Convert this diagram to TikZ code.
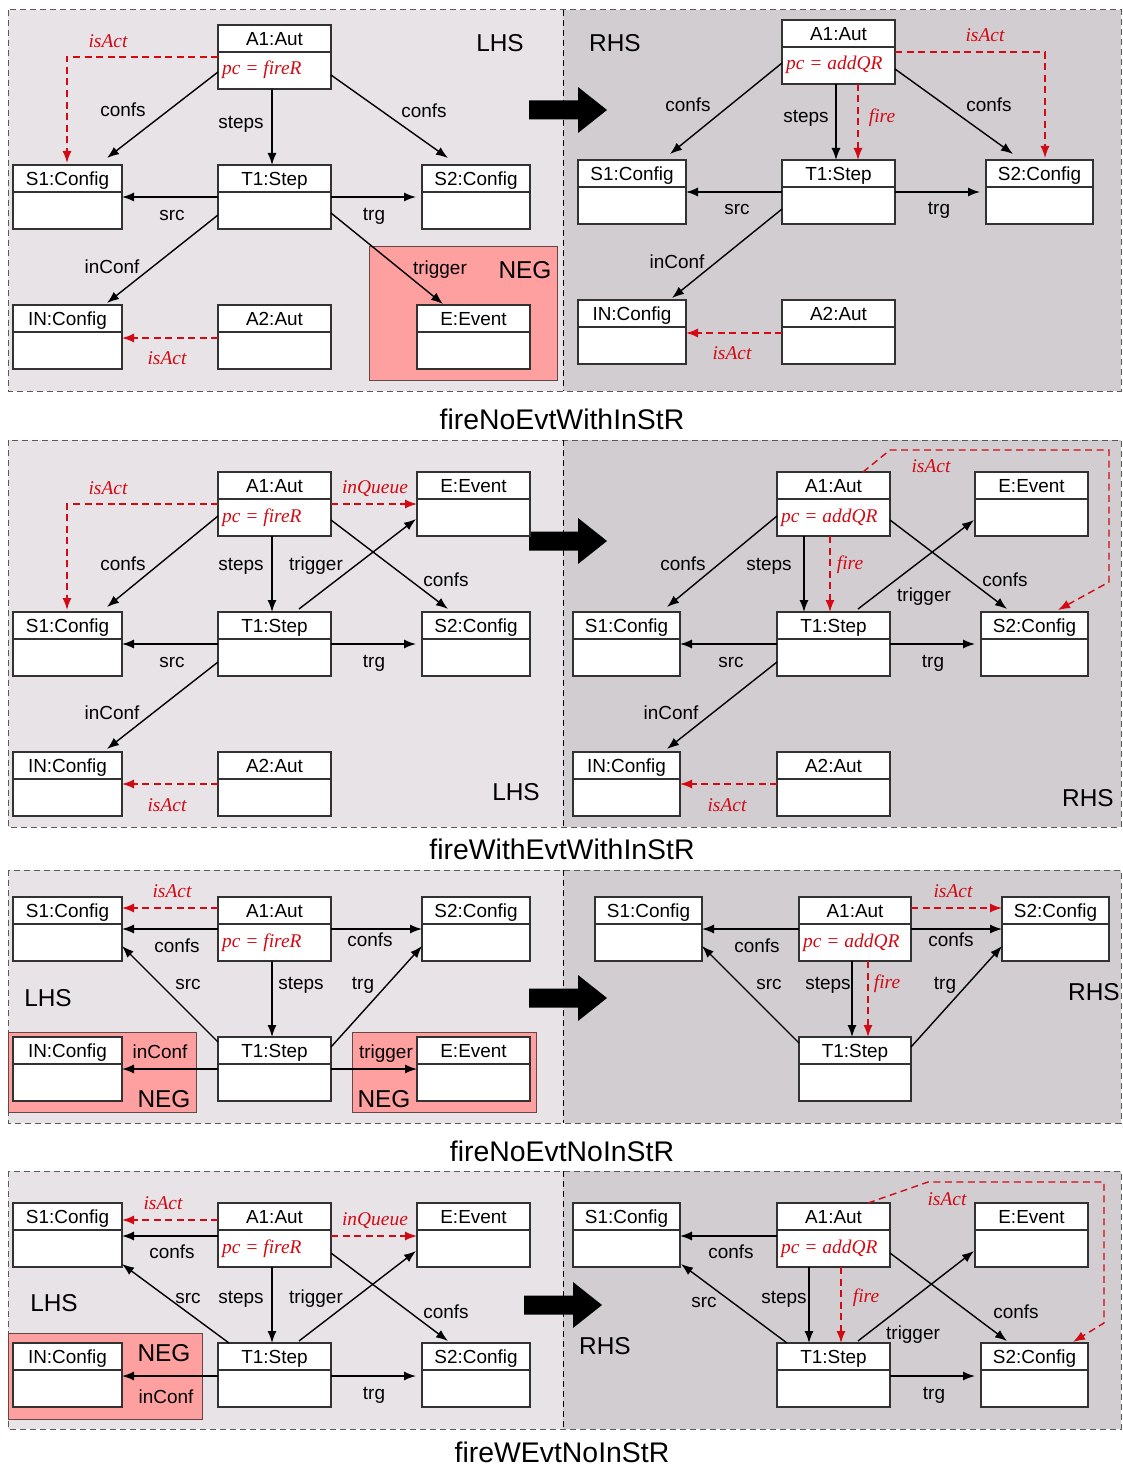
\documentclass[tikz,border=0pt]{standalone}
\usepackage{fontspec}
\setmainfont{Liberation Serif}
\setsansfont{Liberation Sans}
\usetikzlibrary{arrows.meta}
\definecolor{redc}{RGB}{210,10,20}
\definecolor{lhsbg}{RGB}{231,227,231}
\definecolor{rhsbg}{RGB}{209,205,209}
\definecolor{negbg}{RGB}{255,160,160}
\definecolor{negline}{RGB}{100,70,70}
\definecolor{boxgray}{RGB}{50,50,50}
\definecolor{framegray}{RGB}{90,90,90}

\tikzset{
  umlo/.style={draw=boxgray, line width=1.2bp, fill=white, minimum height=64bp, inner sep=0pt, outer sep=0pt},
  hdiv/.style={draw=boxgray, line width=1.2bp},
  utitle/.style={font=\sffamily\fontsize{19}{22}\selectfont, inner sep=0pt, text height=14bp, text depth=0pt},
  lab/.style={font=\sffamily\fontsize{19}{22}\selectfont, inner sep=0pt, text height=14bp, text depth=0pt},
  rlab/.style={font=\rmfamily\itshape\fontsize{19.5}{22}\selectfont, text=redc, inner sep=0pt, text height=13bp, text depth=0pt},
  bigtext/.style={font=\sffamily\fontsize{24.5}{28}\selectfont, inner sep=0pt, text height=18bp, text depth=0pt},
  captext/.style={font=\sffamily\fontsize{28.5}{32}\selectfont, inner sep=0pt, text height=20.5bp, text depth=0pt},
  cn/.style={draw=black, line width=1.4bp, -{Latex[length=12bp,width=9bp]}},
  rd/.style={draw=redc, line width=1.4bp, dash pattern=on 7bp off 4.5bp, -{Latex[length=12bp,width=9bp]}},
  panelframe/.style={draw=framegray, line width=1bp, dash pattern=on 6bp off 4bp},
  divl/.style={draw=black, line width=1bp, dash pattern=on 6bp off 4bp},
  negarea/.style={fill=negbg, draw=negline, line width=1bp},
}

\newcounter{lbn}
% object box: name, x, y, width, title, attribute
\newcommand\umlobj[6]{%
  \node[umlo, minimum width=#4bp, anchor=north west] (#1) at (#2,#3) {};
  \draw[hdiv] ([yshift=-27bp]#1.north west) -- ([yshift=-27bp]#1.north east);
  \node[utitle] (#1t) at ([yshift=-13.5bp]#1.north) {#5};
  \node[rlab, anchor=west] (#1b) at ([xshift=4bp,yshift=-43.5bp]#1.north west) {#6};
}
% free label with an automatic name
\newcommand\labat[4][lab]{\stepcounter{lbn}\node[#1] (lb\arabic{lbn}) at (#2,#3) {#4};}
% thick arrow between the two sides of a rule
\newcommand\ruleArrow[2]{\fill[black] (#1,#2) ++(0,-9.5) -- ++(49,0) -- ++(0,-13.5) -- ++(29,23) -- ++(-29,23) -- ++(0,-13.5) -- ++(-49,0) -- cycle;}

\begin{document}
\begin{tikzpicture}[x=1bp, y=-1bp]
\useasboundingbox (0,0) rectangle (1122,1466);

% ---------------- rule 1: fireNoEvtWithInStR ----------------
\fill[lhsbg] (8,10) rectangle (563,391);
\fill[rhsbg] (563,10) rectangle (1121,391);
\draw[panelframe] (8,10) rectangle (1121,391);
\draw[divl] (563,10) -- (563,391);
\filldraw[negarea] (369,246) rectangle (557,380);
\ruleArrow{529}{110}

\umlobj{aLA1}{218}{25}{113}{A1:Aut}{pc = fireR}
\umlobj{aLS1}{13}{165}{109}{S1:Config}{}
\umlobj{aLT1}{218}{165}{113}{T1:Step}{}
\umlobj{aLS2}{422}{165}{108}{S2:Config}{}
\umlobj{aLIN}{13}{305}{109}{IN:Config}{}
\umlobj{aLA2}{218}{305}{113}{A2:Aut}{}
\umlobj{aLE}{417}{305}{113}{E:Event}{}

\draw[cn] ([shift={(0,47)}]aLA1.north west) -- ([shift={(94,-7)}]aLS1.north west);
\draw[cn] ([shift={(54,0)}]aLA1.south west) -- ([shift={(54,0)}]aLT1.north west);
\draw[cn] ([shift={(0,50)}]aLA1.north east) -- ([shift={(26,-7)}]aLS2.north west);
\draw[cn] ([shift={(0,32)}]aLT1.north west) -- ([shift={(0,32)}]aLS1.north east);
\draw[cn] ([shift={(0,32)}]aLT1.north east) -- ([shift={(-6,32)}]aLS2.north west);
\draw[cn] ([shift={(0,50)}]aLT1.north west) -- ([shift={(94,-2)}]aLIN.north west);
\draw[cn] ([shift={(0,48)}]aLT1.north east) -- ([shift={(26,-1)}]aLE.north west);
\draw[rd] ([shift={(0,32)}]aLA1.north west) -| ([shift={(54,-2)}]aLS1.north west);
\draw[rd] ([shift={(0,33)}]aLA2.north west) -- ([shift={(0,33)}]aLIN.north east);

\labat[rlab]{108}{41}{isAct}
\labat{123}{110}{confs}
\labat{241}{122}{steps}
\labat{424}{111}{confs}
\labat{172}{213}{src}
\labat{374}{213}{trg}
\labat{112}{266}{inConf}
\labat{440}{267}{trigger}
\labat[bigtext]{525}{269}{NEG}
\labat[bigtext]{500}{43}{LHS}
\labat[rlab]{167}{358}{isAct}

\umlobj{aRA1}{782}{20}{113}{A1:Aut}{pc = addQR}
\umlobj{aRS1}{578}{160}{108}{S1:Config}{}
\umlobj{aRT1}{782}{160}{113}{T1:Step}{}
\umlobj{aRS2}{986}{160}{107}{S2:Config}{}
\umlobj{aRIN}{578}{300}{108}{IN:Config}{}
\umlobj{aRA2}{782}{300}{113}{A2:Aut}{}

\draw[cn] ([shift={(0,43)}]aRA1.north west) -- ([shift={(92,-6)}]aRS1.north west);
\draw[cn] ([shift={(54,0)}]aRA1.south west) -- ([shift={(54,0)}]aRT1.north west);
\draw[rd] ([shift={(76,0)}]aRA1.south west) -- ([shift={(76,0)}]aRT1.north west);
\draw[cn] ([shift={(0,49)}]aRA1.north east) -- ([shift={(27,-6)}]aRS2.north west);
\draw[rd] ([shift={(0,32)}]aRA1.north east) -| ([shift={(59,-2)}]aRS2.north west);
\draw[cn] ([shift={(0,32)}]aRT1.north west) -- ([shift={(0,32)}]aRS1.north east);
\draw[cn] ([shift={(0,32)}]aRT1.north east) -- ([shift={(-6,32)}]aRS2.north west);
\draw[cn] ([shift={(0,49)}]aRT1.north west) -- ([shift={(94,-2)}]aRIN.north west);
\draw[rd] ([shift={(0,33)}]aRA2.north west) -- ([shift={(0,33)}]aRIN.north east);

\labat[bigtext]{615}{43}{RHS}
\labat[rlab]{985}{35}{isAct}
\labat{688}{105}{confs}
\labat{806}{116}{steps}
\labat[rlab]{882}{116}{fire}
\labat{989}{105}{confs}
\labat{737}{208}{src}
\labat{939}{208}{trg}
\labat{677}{261}{inConf}
\labat[rlab]{732}{353}{isAct}

\node[captext] (cap1) at (562,419) {fireNoEvtWithInStR};

% ---------------- rule 2: fireWithEvtWithInStR ----------------
\fill[lhsbg] (8,440) rectangle (563,827);
\fill[rhsbg] (563,440) rectangle (1121,827);
\draw[panelframe] (8,440) rectangle (1121,827);
\draw[divl] (563,440) -- (563,827);
\ruleArrow{529}{541}

\umlobj{bLA1}{218}{472}{113}{A1:Aut}{pc = fireR}
\umlobj{bLE}{417}{472}{113}{E:Event}{}
\umlobj{bLS1}{13}{612}{109}{S1:Config}{}
\umlobj{bLT1}{218}{612}{113}{T1:Step}{}
\umlobj{bLS2}{422}{612}{108}{S2:Config}{}
\umlobj{bLIN}{13}{752}{109}{IN:Config}{}
\umlobj{bLA2}{218}{752}{113}{A2:Aut}{}

\draw[rd] ([shift={(0,32)}]bLA1.north west) -| ([shift={(54,-2)}]bLS1.north west);
\draw[rd] ([shift={(0,32)}]bLA1.north east) -- ([shift={(0,32)}]bLE.north west);
\draw[cn] ([shift={(0,44)}]bLA1.north west) -- ([shift={(94,-5)}]bLS1.north west);
\draw[cn] ([shift={(54,0)}]bLA1.south west) -- ([shift={(54,0)}]bLT1.north west);
\draw[cn] ([shift={(0,48)}]bLA1.north east) -- ([shift={(26,-3)}]bLS2.north west);
\draw[cn] ([shift={(81,-3)}]bLT1.north west) -- ([shift={(-1,47)}]bLE.north west);
\draw[cn] ([shift={(0,32)}]bLT1.north west) -- ([shift={(0,32)}]bLS1.north east);
\draw[cn] ([shift={(0,32)}]bLT1.north east) -- ([shift={(-6,32)}]bLS2.north west);
\draw[cn] ([shift={(0,50)}]bLT1.north west) -- ([shift={(94,-3)}]bLIN.north west);
\draw[rd] ([shift={(0,32)}]bLA2.north west) -- ([shift={(0,32)}]bLIN.north east);

\labat[rlab]{108}{488}{isAct}
\labat[rlab]{375}{487}{inQueue}
\labat{123}{563}{confs}
\labat{241}{563}{steps}
\labat{316}{563}{trigger}
\labat{446}{579}{confs}
\labat{172}{660}{src}
\labat{374}{660}{trg}
\labat{112}{712}{inConf}
\labat[bigtext]{516}{791}{LHS}
\labat[rlab]{167}{805}{isAct}

\umlobj{bRA1}{777}{472}{113}{A1:Aut}{pc = addQR}
\umlobj{bRE}{975}{472}{113}{E:Event}{}
\umlobj{bRS1}{573}{612}{107}{S1:Config}{}
\umlobj{bRT1}{777}{612}{113}{T1:Step}{}
\umlobj{bRS2}{981}{612}{107}{S2:Config}{}
\umlobj{bRIN}{573}{752}{107}{IN:Config}{}
\umlobj{bRA2}{777}{752}{113}{A2:Aut}{}

\draw[cn] ([shift={(0,44)}]bRA1.north west) -- ([shift={(94,-5)}]bRS1.north west);
\draw[cn] ([shift={(27,0)}]bRA1.south west) -- ([shift={(27,0)}]bRT1.north west);
\draw[rd] ([shift={(53,0)}]bRA1.south west) -- ([shift={(53,0)}]bRT1.north west);
\draw[cn] ([shift={(81,-3)}]bRT1.north west) -- ([shift={(-1,48)}]bRE.north west);
\draw[cn] ([shift={(0,48)}]bRA1.north east) -- ([shift={(26,-3)}]bRS2.north west);
\draw[rd] ([shift={(86,0)}]bRA1.north west) -- ([shift={(113,-22)}]bRA1.north west) -- ([shift={(21,-22)}]bRE.north east) -- ([shift={(21,-30)}]bRS2.north east) -- ([shift={(77,-2)}]bRS2.north west);
\draw[cn] ([shift={(0,32)}]bRT1.north west) -- ([shift={(0,32)}]bRS1.north east);
\draw[cn] ([shift={(0,32)}]bRT1.north east) -- ([shift={(-6,32)}]bRS2.north west);
\draw[cn] ([shift={(0,50)}]bRT1.north west) -- ([shift={(94,-3)}]bRIN.north west);
\draw[rd] ([shift={(0,32)}]bRA2.north west) -- ([shift={(0,32)}]bRIN.north east);

\labat[rlab]{931}{466}{isAct}
\labat{683}{563}{confs}
\labat{769}{563}{steps}
\labat[rlab]{850}{563}{fire}
\labat{924}{594}{trigger}
\labat{1005}{579}{confs}
\labat{731}{660}{src}
\labat{933}{660}{trg}
\labat{671}{712}{inConf}
\labat[bigtext]{1088}{797}{RHS}
\labat[rlab]{727}{805}{isAct}

\node[captext] (cap2) at (562,849) {fireWithEvtWithInStR};

% ---------------- rule 3: fireNoEvtNoInStR ----------------
\fill[lhsbg] (8,870) rectangle (563,1123);
\fill[rhsbg] (563,870) rectangle (1121,1123);
\draw[panelframe] (8,870) rectangle (1121,1123);
\draw[divl] (563,870) -- (563,1123);
\filldraw[negarea] (8,1032) rectangle (196,1112);
\filldraw[negarea] (352,1032) rectangle (536,1112);
\ruleArrow{529}{998}

\umlobj{cLS1}{13}{897}{109}{S1:Config}{}
\umlobj{cLA1}{218}{897}{113}{A1:Aut}{pc = fireR}
\umlobj{cLS2}{422}{897}{108}{S2:Config}{}
\umlobj{cLT1}{218}{1037}{113}{T1:Step}{}
\umlobj{cLIN}{13}{1037}{109}{IN:Config}{}
\umlobj{cLE}{417}{1037}{113}{E:Event}{}

\draw[rd] ([shift={(0,11)}]cLA1.north west) -- ([shift={(0,11)}]cLS1.north east);
\draw[cn] ([shift={(0,32)}]cLA1.north west) -- ([shift={(0,32)}]cLS1.north east);
\draw[cn] ([shift={(0,32)}]cLA1.north east) -- ([shift={(0,32)}]cLS2.north west);
\draw[cn] ([shift={(54,0)}]cLA1.south west) -- ([shift={(54,0)}]cLT1.north west);
\draw[cn] ([shift={(0,5)}]cLT1.north west) -- ([shift={(0,49)}]cLS1.north east);
\draw[cn] ([shift={(0,10)}]cLT1.north east) -- ([shift={(0,49)}]cLS2.north west);
\draw[cn] ([shift={(0,32)}]cLT1.north west) -- ([shift={(0,32)}]cLIN.north east);
\draw[cn] ([shift={(0,32)}]cLT1.north east) -- ([shift={(0,32)}]cLE.north west);

\labat[rlab]{172}{891}{isAct}
\labat{177}{945}{confs}
\labat{370}{939}{confs}
\labat[bigtext]{48}{997}{LHS}
\labat{188}{982}{src}
\labat{301}{982}{steps}
\labat{363}{982}{trg}
\labat{160}{1051}{inConf}
\labat[bigtext]{164}{1098}{NEG}
\labat{386}{1051}{trigger}
\labat[bigtext]{384}{1098}{NEG}

\umlobj{cRS1}{595}{897}{107}{S1:Config}{}
\umlobj{cRA1}{799}{897}{112}{A1:Aut}{pc = addQR}
\umlobj{cRS2}{1002}{897}{107}{S2:Config}{}
\umlobj{cRT1}{799}{1037}{112}{T1:Step}{}

\draw[rd] ([shift={(0,11)}]cRA1.north east) -- ([shift={(0,11)}]cRS2.north west);
\draw[cn] ([shift={(0,32)}]cRA1.north west) -- ([shift={(0,32)}]cRS1.north east);
\draw[cn] ([shift={(0,32)}]cRA1.north east) -- ([shift={(0,32)}]cRS2.north west);
\draw[cn] ([shift={(53,0)}]cRA1.south west) -- ([shift={(53,0)}]cRT1.north west);
\draw[rd] ([shift={(69,0)}]cRA1.south west) -- ([shift={(69,0)}]cRT1.north west);
\draw[cn] ([shift={(0,6)}]cRT1.north west) -- ([shift={(0,49)}]cRS1.north east);
\draw[cn] ([shift={(0,10)}]cRT1.north east) -- ([shift={(0,49)}]cRS2.north west);

\labat[rlab]{953}{891}{isAct}
\labat{757}{945}{confs}
\labat{951}{939}{confs}
\labat{769}{982}{src}
\labat{828}{982}{steps}
\labat[rlab]{887}{982}{fire}
\labat{945}{982}{trg}
\labat[bigtext]{1094}{991}{RHS}

\node[captext] (cap3) at (562,1151) {fireNoEvtNoInStR};

% ---------------- rule 4: fireWEvtNoInStR ----------------
\fill[lhsbg] (8,1171) rectangle (563,1429);
\fill[rhsbg] (563,1171) rectangle (1121,1429);
\draw[panelframe] (8,1171) rectangle (1121,1429);
\draw[divl] (563,1171) -- (563,1429);
\filldraw[negarea] (8,1333) rectangle (202,1419);
\ruleArrow{524}{1305}

\umlobj{dLS1}{13}{1203}{109}{S1:Config}{}
\umlobj{dLA1}{218}{1203}{113}{A1:Aut}{pc = fireR}
\umlobj{dLE}{417}{1203}{113}{E:Event}{}
\umlobj{dLIN}{13}{1343}{109}{IN:Config}{}
\umlobj{dLT1}{218}{1343}{113}{T1:Step}{}
\umlobj{dLS2}{422}{1343}{108}{S2:Config}{}

\draw[rd] ([shift={(0,17)}]dLA1.north west) -- ([shift={(0,17)}]dLS1.north east);
\draw[cn] ([shift={(0,33)}]dLA1.north west) -- ([shift={(0,33)}]dLS1.north east);
\draw[rd] ([shift={(0,33)}]dLA1.north east) -- ([shift={(0,33)}]dLE.north west);
\draw[cn] ([shift={(54,0)}]dLA1.south west) -- ([shift={(54,0)}]dLT1.north west);
\draw[cn] ([shift={(11,0)}]dLT1.north west) -- ([shift={(0,61)}]dLS1.north east);
\draw[cn] ([shift={(81,-2)}]dLT1.north west) -- ([shift={(-1,48)}]dLE.north west);
\draw[cn] ([shift={(0,50)}]dLA1.north east) -- ([shift={(26,-2)}]dLS2.north west);
\draw[cn] ([shift={(0,33)}]dLT1.north west) -- ([shift={(0,33)}]dLIN.north east);
\draw[cn] ([shift={(0,33)}]dLT1.north east) -- ([shift={(-6,33)}]dLS2.north west);

\labat[rlab]{163}{1203}{isAct}
\labat{172}{1251}{confs}
\labat[rlab]{375}{1219}{inQueue}
\labat[bigtext]{54}{1302}{LHS}
\labat{188}{1296}{src}
\labat{241}{1296}{steps}
\labat{316}{1296}{trigger}
\labat{446}{1311}{confs}
\labat[bigtext]{164}{1352}{NEG}
\labat{166}{1396}{inConf}
\labat{374}{1392}{trg}

\umlobj{dRS1}{573}{1203}{107}{S1:Config}{}
\umlobj{dRA1}{777}{1203}{113}{A1:Aut}{pc = addQR}
\umlobj{dRE}{975}{1203}{113}{E:Event}{}
\umlobj{dRT1}{777}{1343}{113}{T1:Step}{}
\umlobj{dRS2}{981}{1343}{107}{S2:Config}{}

\draw[cn] ([shift={(0,33)}]dRA1.north west) -- ([shift={(0,33)}]dRS1.north east);
\draw[cn] ([shift={(10,0)}]dRT1.north west) -- ([shift={(1,61)}]dRS1.north east);
\draw[cn] ([shift={(32,0)}]dRA1.south west) -- ([shift={(32,0)}]dRT1.north west);
\draw[rd] ([shift={(64,0)}]dRA1.south west) -- ([shift={(64,0)}]dRT1.north west);
\draw[cn] ([shift={(81,-2)}]dRT1.north west) -- ([shift={(-1,48)}]dRE.north west);
\draw[cn] ([shift={(0,50)}]dRA1.north east) -- ([shift={(26,-2)}]dRS2.north west);
\draw[rd] ([shift={(91,0)}]dRA1.north west) -- ([shift={(151,-21)}]dRA1.north west) -- ([shift={(16,-21)}]dRE.north east) -- ([shift={(16,-20)}]dRS2.north east) -- ([shift={(92,-1)}]dRS2.north west);
\draw[cn] ([shift={(0,33)}]dRT1.north east) -- ([shift={(-6,33)}]dRS2.north west);

\labat[rlab]{947}{1199}{isAct}
\labat{731}{1251}{confs}
\labat{704}{1300}{src}
\labat{784}{1296}{steps}
\labat[rlab]{866}{1296}{fire}
\labat[bigtext]{605}{1345}{RHS}
\labat{913}{1332}{trigger}
\labat{1016}{1311}{confs}
\labat{934}{1392}{trg}

\node[captext] (cap4) at (562,1452) {fireWEvtNoInStR};
\end{tikzpicture}
\end{document}
